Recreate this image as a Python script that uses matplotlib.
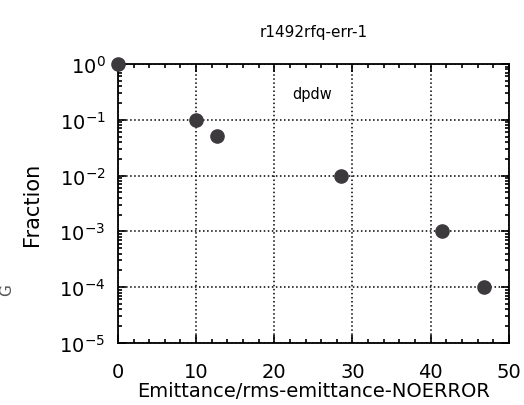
import numpy as np
import matplotlib
matplotlib.use('Agg')
import matplotlib.pyplot as plt
from matplotlib.ticker import MultipleLocator, LogLocator, NullFormatter

# values
emittance = [0.0, 10.0, 12.7, 28.5, 41.4, 46.8]
fraction = [1.0, 1e-1, 5.1e-2, 1e-2, 1e-3, 1e-4]
x_ticks = [0, 10, 20, 30, 40, 50]
y_ticks = [1e-5, 1e-4, 1e-3, 1e-2, 1e-1, 1e0]

fig = plt.figure(figsize=(5.24, 4.06), dpi=100)
ax = fig.add_axes([0.225, 0.153, 0.746, 0.687])

ax.plot(emittance, fraction, 'o', color='#3c3a3d', markersize=9.5,
        clip_on=False, zorder=5)

ax.set_yscale('log')
ax.set_xlim(0, 50)
ax.set_ylim(1e-5, 1)
ax.set_xticks(x_ticks)
ax.set_yticks(y_ticks)
ax.xaxis.set_minor_locator(MultipleLocator(2))
ax.yaxis.set_minor_locator(LogLocator(base=10, subs=np.arange(2, 10)))
ax.yaxis.set_minor_formatter(NullFormatter())

ax.tick_params(which='both', direction='in', top=True, right=True,
               labelsize=14, width=1.2)
ax.tick_params(which='major', length=6)
ax.tick_params(axis='x', which='major', pad=14)
ax.tick_params(axis='y', which='major', pad=9)
ax.tick_params(which='minor', length=3)
for s in ax.spines.values():
    s.set_linewidth(1.3)

ax.grid(True, which='major', linestyle=':', color='black', linewidth=1.1)

ax.set_xlabel('Emittance/rms-emittance-NOERROR', fontsize=14, labelpad=0)
ax.set_ylabel('Fraction', fontsize=15, labelpad=12)
ax.set_title('r1492rfq-err-1', fontsize=11, pad=20)
ax.text(24.8, 0.29, 'dpdw', fontsize=10.5, ha='center', va='center')

# stray rotated character at the left margin of the scan
fig.text(0.012, 0.285, 'G', rotation=90, fontsize=11, color='#555555',
         ha='center', va='center')

fig.savefig('out.png', dpi=100, facecolor='white')
